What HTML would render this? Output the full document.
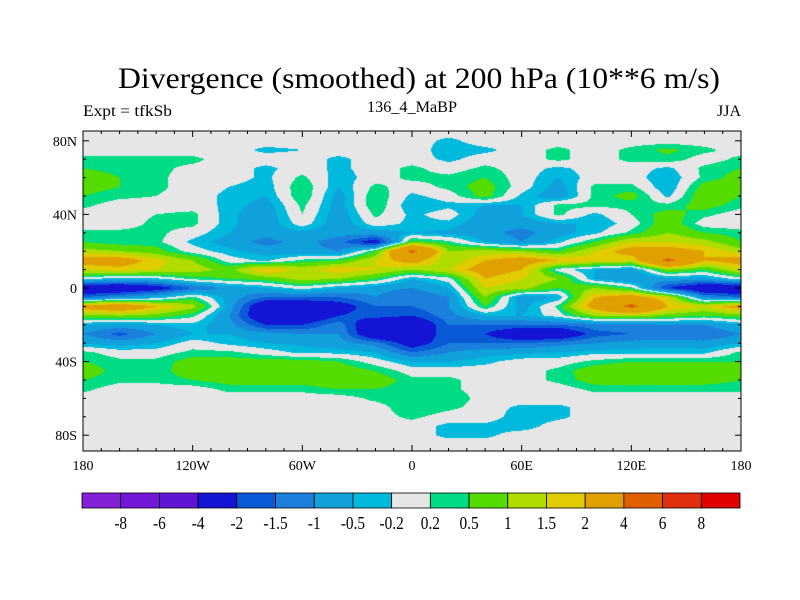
<!DOCTYPE html>
<html><head><meta charset="utf-8"><style>
html,body{margin:0;padding:0;background:#fff;}
#wrap{position:relative;width:800px;height:600px;overflow:hidden;}
svg,canvas{position:absolute;left:0;top:0;}
text{font-family:"Liberation Serif",serif;fill:#000;}
</style></head><body>
<div id="wrap">
<canvas id="map" width="800" height="600"></canvas>
<svg id="ov" width="800" height="600">
<text x="419" y="88" text-anchor="middle" font-size="30" textLength="602" lengthAdjust="spacingAndGlyphs">Divergence (smoothed) at 200 hPa (10**6 m/s)</text>
<text x="83" y="116" font-size="16" textLength="89" lengthAdjust="spacingAndGlyphs">Expt = tfkSb</text>
<text x="412" y="112" text-anchor="middle" font-size="16" textLength="90" lengthAdjust="spacingAndGlyphs">136_4_MaBP</text>
<text x="741" y="116" text-anchor="end" font-size="16">JJA</text>
<g id="axes"></g>
<g id="cbar"></g>
</svg>
</div>
<script>
const lonCols=[-180,-160,-140,-120,-100,-80,-60,-40,-20,0,20,40,60,80,100,120,140,160];
const latRows=[85,80,75,70,65,60,55,50,45,40,35,30,25,20,15,10,5,0,-5,-10,-15,-20,-25,-30,-35,-40,-45,-50,-55,-60,-65,-70,-75,-80,-85,-90];
const r85N=[0,0,0,0,0,0,0,0,0,0,0,0,0,0,0,0,0,0];
const r80N=[0,0,0,0,0,0,0,0,0,0,-0.3,0,0,0,0,0,0,0];
const r75N=[0,0,0,0,0,-0.3,-0.2,0,0,0,-0.4,-0.3,0,0.3,0,0.3,0.6,0.3];
const r70N=[0.3,0.3,0.3,0.3,0,0,0,-0.3,0,0,-0.3,0,0,0.3,0,0.3,0.4,0];
const r65N=[0.5,0.4,0.3,0.1,0,-0.3,0,-0.3,0,0.3,0,0.3,0,-0.3,0,0,-0.3,0.3];
const r60N=[0.7,0.5,0.3,0,0,-0.3,0.3,-0.4,0,0.3,0.3,0.5,0,-0.5,0,0,-0.5,0.3];
const r55N=[0.7,0.5,0.3,0,-0.2,-0.4,0.5,-0.5,0.3,0,0.3,0.7,0,-0.7,0.3,0.3,-0.5,0.7];
const r50N=[0.5,0.3,0.2,0,-0.3,-0.5,0.5,-0.7,0.5,-0.3,0,0.7,-0.3,-0.8,0.3,0.7,-0.3,0.9];
const r45N=[0.3,0,0,0,-0.3,-0.7,0.3,-0.7,0.5,-0.5,-0.3,-0.5,-0.5,0.3,0.3,0.3,0.3,0.7];
const r40N=[0,0,0.2,0.3,-0.4,-0.8,0.2,-0.8,0.3,-0.3,0,-0.7,-0.5,0.3,-0.3,0.2,0.7,0.3];
const r35N=[0,0,0.3,0.3,-0.4,-0.8,0,-0.8,0,-0.3,-0.3,-0.8,-0.8,-0.5,-0.5,0,0.8,0];
const r30N=[0.3,0.3,0.3,0,-0.5,-0.8,-0.6,-0.8,-0.7,-0.5,-0.6,-0.8,-1.2,-0.7,-0.3,0.3,1.0,0.5];
const r25N=[0.5,0.3,0.3,-0.3,-0.7,-1.2,-0.8,-1.3,-2.5,0.7,0.3,-0.5,-1.0,-0.3,0.5,1.5,1.5,1.2];
const r20N=[1.2,1.0,0.7,0,-0.4,-0.7,-0.8,-1.0,0.5,4.5,1.0,1.2,1.0,0.5,1.5,2.5,2.5,2];
const r15N=[2.5,2.5,1.7,1.0,0,-0.3,0.3,0.5,1.5,2.5,1.0,2,2.5,2.0,1.7,1.5,4.5,2];
const r10N=[1.5,1.8,1.5,1.3,0.8,2.0,1.3,1.8,1.5,1.0,1.5,2.5,2,0,-0.5,-0.8,1.0,0.5];
const r5N=[0,-0.5,-0.3,0.3,0.5,0.7,1.2,1.0,0.5,-0.5,0,2,1.5,1.0,-0.5,-1.0,-0.7,-0.7];
const r0=[-3,-3,-2.5,-1.5,-0.8,-0.5,0,-0.5,-0.8,-1,-0.5,1.5,1.2,0.5,1.0,0.3,-2,-3];
const r5S=[-1.5,-1,-0.5,0.3,-0.7,-1.5,-1.5,-1.5,-1,-1.5,-1,1.0,-0.8,-0.5,2,2.5,1.5,-1];
const r10S=[2.5,3,2,1.2,-0.7,-3,-3,-2.5,-1.5,-1.5,-1,0.5,-0.7,0.3,2.5,4.5,2,1.5];
const r15S=[0.8,1,0.8,0.3,-1,-3,-3,-2,-1.7,-2,-1.2,-0.5,-0.5,0,1.0,1.2,0.8,0.5];
const r20S=[-0.5,-0.7,-0.5,-0.3,-0.8,-2,-2,-1.2,-3,-3,-1.5,-1.5,-1.5,-1.5,-1.2,-1.2,-1.0,-1.0];
const r25S=[-1,-1.7,-1,-0.5,-0.5,-0.8,-1,-1,-3,-3,-1.5,-2,-3,-3,-1.7,-1.5,-1.5,-1.5];
const r30S=[-0.5,-0.7,-0.5,0,-0.3,-0.5,-0.6,-0.8,-1.2,-2.5,-1.5,-1.5,-1.5,-1.2,-1.0,-0.8,-0.7,-0.8];
const r35S=[0.3,0,0,0.3,0.3,0,-0.3,-0.3,-0.5,-1.5,-1,-0.7,-0.6,-0.5,-0.3,-0.3,-0.3,-0.3];
const r40S=[0.5,0.3,0.3,0.7,0.7,0.7,0.7,0.5,0,-0.5,-0.5,-0.3,0,0,0.3,0.5,0.5,0.5];
const r45S=[0.8,0.3,0.3,0.8,0.8,0.8,0.8,0.8,0.5,0,0,0,0,0.3,0.8,1.0,1.0,0.8];
const r50S=[0.5,0.3,0.3,0.5,0.7,0.7,0.7,1.0,0.8,0.3,0.3,0,0,0.3,0.7,0.8,0.7,0.7];
const r55S=[0.3,0,0,0,0.3,0.3,0.3,0.5,0.5,0.3,0.3,0,0,0,0.3,0.3,0.3,0.3];
const r60S=[0,0,0,0,0,0,0,0,0.3,0.5,0.5,0,0,0,0,0,0,0];
const r65S=[0,0,0,0,0,0,0,0,0,0.5,0.3,0,-0.3,-0.3,0,0,0,0];
const r70S=[0,0,0,0,0,0,0,0,0,0.3,0,0,-0.4,-0.3,0,0,0,0];
const r75S=[0,0,0,0,0,0,0,0,0,0,-0.3,-0.3,-0.4,0,0,0,0,0];
const r80S=[0,0,0,0,0,0,0,0,0,0,-0.3,-0.3,0,0,0,0,0,0];
const r85S=[0,0,0,0,0,0,0,0,0,0,0,0,0,0,0,0,0,0];
const r90S=[0,0,0,0,0,0,0,0,0,0,0,0,0,0,0,0,0,0];
const grid=[r85N,r80N,r75N,r70N,r65N,r60N,r55N,r50N,r45N,r40N,r35N,r30N,r25N,r20N,r15N,r10N,r5N,r0,r5S,r10S,r15S,r20S,r25S,r30S,r35S,r40S,r45S,r50S,r55S,r60S,r65S,r70S,r75S,r80S,r85S,r90S];
const levels=[-8,-6,-4,-2,-1.5,-1,-0.5,-0.2,0.2,0.5,1,1.5,2,4,6,8];
const levelLabels=["-8","-6","-4","-2","-1.5","-1","-0.5","-0.2","0.2","0.5","1","1.5","2","4","6","8"];
const colors=["#8420d8","#7318d8","#6014d4","#1414d4","#0a5ad8","#1a80dc","#10a0dc","#00bade","#e6e6e6","#00dc84","#54dc00","#b0dc00","#e0cc00","#e0a000","#e06000","#e03010","#e00000"];

const PX0=83,PX1=741,PY0=131,PY1=451;
function xOf(lon){return 412+lon*658/360;}
function yOf(lat){return 288-lat*1.84;}
function latOf(y){return (288-y)/1.84;}
function lonOf(x){return (x-412)*360/658;}
function val(lon,lat){
  let fl=(lon+180)/20; const n=lonCols.length;
  let i0=Math.floor(fl), tx=fl-i0; i0=((i0%n)+n)%n; const i1=(i0+1)%n;
  let fr=(latRows[0]-lat)/5; fr=Math.max(0,Math.min(latRows.length-1.0001,fr));
  const j0=Math.floor(fr), ty=fr-j0, j1=Math.min(j0+1,latRows.length-1);
  const a=grid[j0][i0]*(1-tx)+grid[j0][i1]*tx, b=grid[j1][i0]*(1-tx)+grid[j1][i1]*tx;
  return a*(1-ty)+b*ty;
}
function colorIdx(v){let k=0;while(k<levels.length&&v>=levels[k])k++;return k;}
function hex(c){return [parseInt(c.substr(1,2),16),parseInt(c.substr(3,2),16),parseInt(c.substr(5,2),16)];}
const rgb=colors.map(hex);
const cv=document.getElementById('map'),ctx=cv.getContext('2d');
const W=PX1-PX0,H=PY1-PY0;
const img=ctx.createImageData(W,H);
for(let y=0;y<H;y++){const lat=latOf(PY0+y+0.5);
  for(let x=0;x<W;x++){const v=val(lonOf(PX0+x+0.5),lat);const c=rgb[colorIdx(v)];const o=(y*W+x)*4;
    img.data[o]=c[0];img.data[o+1]=c[1];img.data[o+2]=c[2];img.data[o+3]=255;}}
ctx.putImageData(img,PX0,PY0);

const NS='http://www.w3.org/2000/svg';
function mk(tag,attrs,parent){const e=document.createElementNS(NS,tag);for(const k in attrs)e.setAttribute(k,attrs[k]);parent.appendChild(e);return e;}
const ax=document.getElementById('axes');
const frame=mk('rect',{x:PX0,y:PY0,width:W,height:H,fill:'none',stroke:'#000','stroke-width':1},ax);


const latTicks=[80,40,0,-40,-80],latLab=["80N","40N","0","40S","80S"];
const lonTicks=[-180,-120,-60,0,60,120,180],lonLab=["180","120W","60W","0","60E","120E","180"];
for(let lon=-180;lon<=180;lon+=10){const x=xOf(lon);const L=(lon%60===0)?6:3;
  mk('line',{x1:x,y1:PY1,x2:x,y2:PY1-L,stroke:'#000'},ax);mk('line',{x1:x,y1:PY0,x2:x,y2:PY0+L,stroke:'#000'},ax);}
for(let lat=-80;lat<=80;lat+=10){const y=yOf(lat);const L=(lat%40===0)?6:3;
  mk('line',{x1:PX0,y1:y,x2:PX0+L,y2:y,stroke:'#000'},ax);mk('line',{x1:PX1,y1:y,x2:PX1-L,y2:y,stroke:'#000'},ax);}
latTicks.forEach((lat,i)=>{const t=mk('text',{x:77,y:yOf(lat)+5,'text-anchor':'end','font-size':14},ax);t.textContent=latLab[i];
  
  });
lonTicks.forEach((lon,i)=>{const t=mk('text',{x:xOf(lon),y:470,'text-anchor':'middle','font-size':14},ax);t.textContent=lonLab[i];
  
  });
const cb=document.getElementById('cbar');
const cbx0=82,cbx1=740,cby=493,cbh=15,bw=(cbx1-cbx0)/colors.length;
colors.forEach((c,i)=>{const r=mk('rect',{x:cbx0+i*bw,y:cby,width:bw,height:cbh,fill:c,stroke:'#000','stroke-width':0.8},cb);
  
  });
levelLabels.forEach((l,i)=>{const t=mk('text',{x:cbx0+(i+1)*bw,y:529,'text-anchor':'middle','font-size':18,transform:'translate('+(cbx0+(i+1)*bw)+',0) scale(0.85,1) translate('+(-(cbx0+(i+1)*bw))+',0)'},cb);t.textContent=l;
  
  });
</script>
</body></html>
